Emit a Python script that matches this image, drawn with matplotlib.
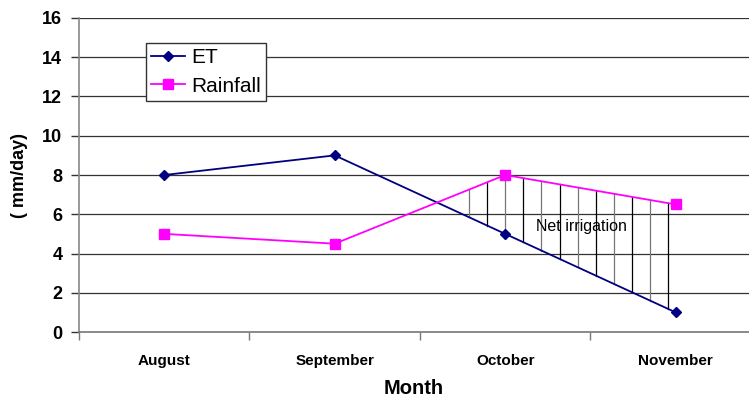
import numpy as np
import matplotlib.pyplot as plt

plt.rcParams['font.family'] = ['Liberation Sans', 'DejaVu Sans']

months = ['August', 'September', 'October', 'November']
et = [8, 9, 5, 1]
rainfall = [5, 4.5, 8, 6.5]
yticks = [0, 2, 4, 6, 8, 10, 12, 14, 16]

xpos = np.arange(len(months)) + 0.5

fig = plt.figure(figsize=(7.49, 3.98), dpi=100)
ax = fig.add_axes([0.1055, 0.1658, 0.8945, 0.789])

ax.set_xlim(0, 3.93)
ax.set_ylim(0, 16)

for y in yticks[1:]:
    ax.axhline(y, color='#333333', lw=0.9, zorder=1)

# vertical hatch between rainfall and ET where rain exceeds ET
hx = np.arange(2.287, 3.47, 0.1063)
r_h = np.interp(hx, xpos, rainfall)
e_h = np.interp(hx, xpos, et)
for i, (x, r, e) in enumerate(zip(hx, r_h, e_h)):
    ax.plot([x, x], [e, r], color='black' if i % 2 else '#777777', lw=0.9, zorder=2)

ax.plot(xpos, et, color='#000080', lw=1.3, marker='D', ms=5.5, label='ET', zorder=3)
ax.plot(xpos, rainfall, color='#FF00FF', lw=1.3, marker='s', ms=7, label='Rainfall', zorder=3)

ax.text(2.95, 5.4, 'Net irrigation', fontsize=11.5, ha='center', va='center', zorder=4)

ax.set_yticks(yticks)
ax.set_yticklabels([str(v) for v in yticks], fontsize=13, fontweight='bold')
ax.set_xticks(xpos)
ax.set_xticklabels(months, fontsize=11, fontweight='bold')
ax.set_xticks(np.arange(0, 4), minor=True)
ax.tick_params(axis='x', which='major', length=0, pad=16)
ax.tick_params(axis='x', which='minor', length=6, color='#777777', width=1)
ax.tick_params(axis='y', length=6, color='#333333', width=1, pad=6)

for side in ['top', 'right']:
    ax.spines[side].set_visible(False)
ax.spines['left'].set_color('#888888')
ax.spines['bottom'].set_color('#777777')
ax.spines['left'].set_linewidth(1.2)
ax.spines['bottom'].set_linewidth(1.2)

ax.set_xlabel('Month', fontsize=14.5, fontweight='bold', labelpad=8)
ax.set_ylabel('( mm/day)', fontsize=13, fontweight='bold', labelpad=10)

leg = ax.legend(loc='upper left', bbox_to_anchor=(0.1, 0.92), fontsize=15,
                frameon=True, fancybox=False, edgecolor='#333333',
                handlelength=1.6, handletextpad=0.3, borderpad=0.25,
                labelspacing=0.45, borderaxespad=0)
leg.get_frame().set_linewidth(1)
leg.get_frame().set_facecolor('white')
leg.get_frame().set_alpha(1)

fig.savefig('out.png', dpi=100)
